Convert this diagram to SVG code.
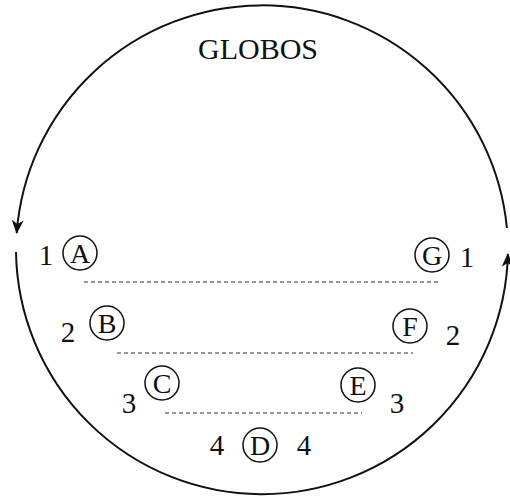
<svg xmlns="http://www.w3.org/2000/svg" width="510" height="498" viewBox="0 0 510 498">
<style>
.t{font-family:"Liberation Serif","Times New Roman",serif;fill:#111;}
.lbl{font-size:28px;text-anchor:middle;}
.num{font-size:29px;text-anchor:middle;}
.nc{fill:none;stroke:#111;stroke-width:1.5;}
.dash{stroke:#333;stroke-width:1;stroke-dasharray:4 3;fill:none;}
.ring{fill:none;stroke:#111;stroke-width:2;}
</style>
<defs>
<marker id="ah" markerUnits="userSpaceOnUse" viewBox="0 0 14 12" refX="13" refY="6" markerWidth="14" markerHeight="12" orient="auto">
<path d="M0,0 L14,6 L0,12 L4,6 Z" fill="#111"/>
</marker>
</defs>
<rect width="510" height="498" fill="#fff"/>
<text class="t" x="258" y="59" font-size="30" text-anchor="middle">GLOBOS</text>
<g id="connectors">
<path class="ring" d="M506.9 228 A246 246 0 0 0 16.7 233" marker-end="url(#ah)"/>
<path class="ring" d="M16 252 A246 246 0 0 0 507.9 254" marker-end="url(#ah)"/>
<line class="dash" x1="84" y1="282" x2="438" y2="282"/>
<line class="dash" x1="117" y1="353" x2="413" y2="353"/>
<line class="dash" x1="165" y1="413" x2="362" y2="413"/>
</g>
<g id="nodeA"><circle class="nc" cx="80" cy="253" r="17"/><text class="t lbl" x="80" y="263">A</text><text class="t num" x="46" y="265">1</text></g>
<g id="nodeG"><circle class="nc" cx="432" cy="255" r="17"/><text class="t lbl" x="432" y="265">G</text><text class="t num" x="467" y="267">1</text></g>
<g id="nodeB"><circle class="nc" cx="107" cy="323" r="17"/><text class="t lbl" x="107" y="333">B</text><text class="t num" x="68" y="342">2</text></g>
<g id="nodeF"><circle class="nc" cx="410" cy="326" r="17"/><text class="t lbl" x="410" y="336">F</text><text class="t num" x="453" y="345">2</text></g>
<g id="nodeC"><circle class="nc" cx="162" cy="383" r="17"/><text class="t lbl" x="162" y="393">C</text><text class="t num" x="129" y="413">3</text></g>
<g id="nodeE"><circle class="nc" cx="358" cy="385" r="17"/><text class="t lbl" x="358" y="395">E</text><text class="t num" x="397" y="413">3</text></g>
<g id="nodeD"><circle class="nc" cx="260" cy="445" r="17"/><text class="t lbl" x="260" y="455">D</text><text class="t num" x="217" y="455">4</text><text class="t num" x="304" y="455">4</text></g>
</svg>
